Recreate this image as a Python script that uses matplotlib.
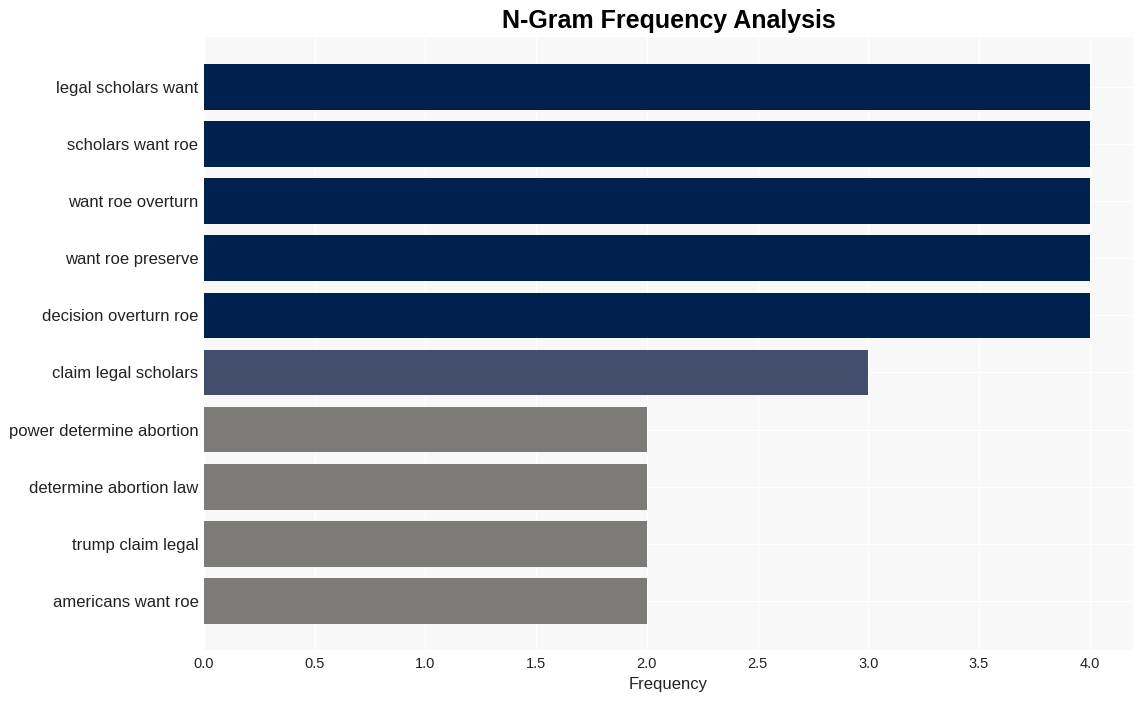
import matplotlib
matplotlib.use("Agg")
import matplotlib.pyplot as plt

labels = ["legal scholars want", "scholars want roe", "want roe overturn",
          "want roe preserve", "decision overturn roe", "claim legal scholars",
          "power determine abortion", "determine abortion law",
          "trump claim legal", "americans want roe"]
freqs = [4, 4, 4, 4, 4, 3, 2, 2, 2, 2]
colors = ["#00214e"] * 5 + ["#434e6a"] + ["#7c7b77"] * 4

plt.rcParams["font.family"] = ["Liberation Sans", "DejaVu Sans"]

fig = plt.figure(figsize=(11.44, 7.01), dpi=100)
ax = fig.add_axes([204 / 1144, 51 / 701, 929 / 1144, 613 / 701])
ax.set_facecolor("#f8f8f8")
ypos = list(range(len(labels)))
ax.barh(ypos, freqs, height=0.8, color=colors, zorder=2)
ax.set_yticks(ypos)
ax.set_yticklabels(labels, fontsize=12, color="#222222")
ax.set_ylim(len(labels) - 0.14, -0.875)
ax.set_xlim(0, 4.195)
ax.set_xticks([0, 0.5, 1, 1.5, 2, 2.5, 3, 3.5, 4])
ax.set_xticklabels(["0.0", "0.5", "1.0", "1.5", "2.0", "2.5", "3.0", "3.5", "4.0"],
                   fontsize=10.5, color="#222222")
ax.tick_params(axis="y", length=0, pad=4)
ax.tick_params(axis="x", length=0, pad=5)
ax.grid(True, color="white", lw=0.8, zorder=1)
for s in ax.spines.values():
    s.set_visible(False)
ax.set_xlabel("Frequency", fontsize=12, color="#222222", labelpad=4)
fig.suptitle("N-Gram Frequency Analysis", fontsize=18, fontweight="bold", x=669 / 1144, y=0.987)
fig.savefig("out.png", dpi=100)
